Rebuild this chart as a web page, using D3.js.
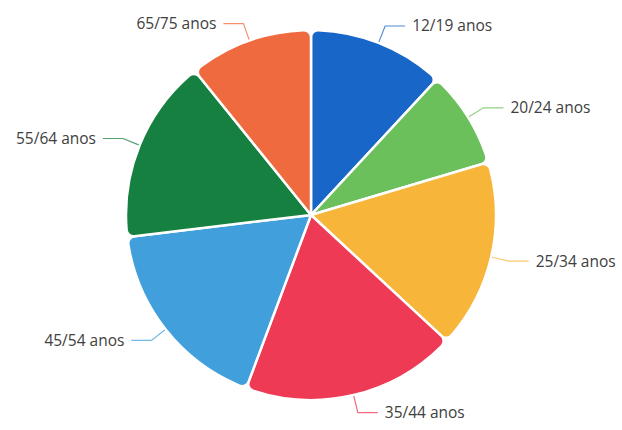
<!DOCTYPE html>
<html>
<head>
<meta charset="utf-8">
<script src="https://cdn.jsdelivr.net/npm/d3@7"></script>
<style>
  html, body { margin: 0; padding: 0; background: #ffffff; }
  svg { display: block; }
</style>
</head>
<body>
<svg id="chart" width="622" height="430"></svg>
<script>
const categories = ["12/19 anos", "20/24 anos", "25/34 anos", "35/44 anos", "45/54 anos", "55/64 anos", "65/75 anos"];
const values = [11.9, 8.5, 16.5, 18.8, 17.4, 16.1, 10.8];
const colors = ["#1766c8", "#6cc05c", "#f7b53a", "#ee3a55", "#41a0dc", "#168040", "#f06a40"];

const width = 622, height = 430;
const cx = 311, cy = 215, radius = 185;
const len1 = 18, len2 = 20, gap = 7;

const svg = d3.select("#chart");
const g = svg.append("g").attr("transform", `translate(${cx},${cy})`);

const data = categories.map((c, i) => ({ name: c, value: values[i], color: colors[i] }));

const pie = d3.pie().value(d => d.value).sort(null);
const arcs = pie(data);

const arc = d3.arc().innerRadius(0).outerRadius(radius).cornerRadius(7);

g.selectAll("path.slice")
  .data(arcs)
  .enter().append("path")
  .attr("class", "slice")
  .attr("d", arc)
  .attr("fill", d => d.data.color)
  .attr("stroke", "#ffffff")
  .attr("stroke-width", 2.5)
  .attr("stroke-linejoin", "round");

function pt(angle, r) {
  return [Math.sin(angle) * r, -Math.cos(angle) * r];
}

arcs.forEach(d => {
  const mid = (d.startAngle + d.endAngle) / 2;
  const right = Math.sin(mid) >= 0;
  const p1 = pt(mid, radius + 1);
  const p2 = pt(mid, radius + len1);
  const p3 = [p2[0] + (right ? len2 : -len2), p2[1]];
  g.append("polyline")
    .attr("points", [p1, p2, p3].map(p => p.join(",")).join(" "))
    .attr("fill", "none")
    .attr("stroke", d.data.color)
    .attr("stroke-width", 1.2)
    .attr("opacity", 0.75);
  g.append("text")
    .attr("x", p3[0] + (right ? gap : -gap))
    .attr("y", p3[1])
    .attr("dy", "0.35em")
    .attr("text-anchor", right ? "start" : "end")
    .attr("font-family", "'Open Sans', 'DejaVu Sans', sans-serif")
    .attr("font-size", 15.5)
    .attr("fill", "#404040")
    .text(d.data.name);
});
</script>
</body>
</html>
